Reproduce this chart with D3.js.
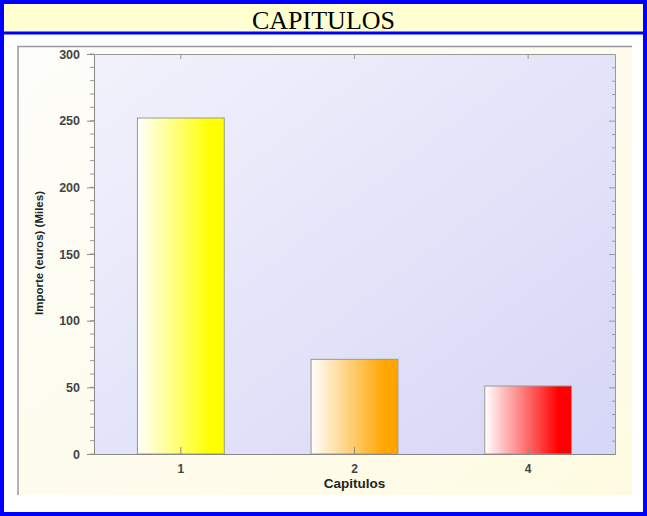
<!DOCTYPE html>
<html>
<head>
<meta charset="utf-8">
<script src="https://cdn.jsdelivr.net/npm/d3@7"></script>
<style>
  body { margin: 0; background: #fff; }
  svg { display: block; }
</style>
</head>
<body>
<script>
// data
var categories = ["1", "2", "4"];
var importes = [252, 71, 51];
var barColors = ["#ffff00", "#ffa500", "#ff0000"];
var yTicks = [0, 50, 100, 150, 200, 250, 300];

var W = 647, H = 516;
var plot = {left: 94, right: 615, top: 54, bottom: 454};

var svg = d3.select("body").append("svg")
    .attr("width", W)
    .attr("height", H);

var defs = svg.append("defs");

var bg = defs.append("linearGradient").attr("id", "plotbg")
    .attr("x1", 0).attr("y1", 0).attr("x2", 1).attr("y2", 1);
bg.append("stop").attr("offset", 0).attr("stop-color", "#f2f2fc");
bg.append("stop").attr("offset", 1).attr("stop-color", "#d6d6f7");

var cbg = defs.append("linearGradient").attr("id", "chartbg")
    .attr("x1", 0).attr("y1", 0).attr("x2", 1).attr("y2", 1);
cbg.append("stop").attr("offset", 0).attr("stop-color", "#fdfdfa");
cbg.append("stop").attr("offset", 1).attr("stop-color", "#fffbe2");

barColors.forEach(function(c, i) {
  var g = defs.append("linearGradient").attr("id", "bar" + i)
      .attr("x1", 0).attr("y1", 0).attr("x2", 1).attr("y2", 0);
  g.append("stop").attr("offset", 0).attr("stop-color", "#ffffff");
  g.append("stop").attr("offset", 0.85).attr("stop-color", c);
  g.append("stop").attr("offset", 1).attr("stop-color", c);
});

// blue frame + title band
svg.append("rect")
    .attr("x", 2).attr("y", 2).attr("width", W - 4).attr("height", H - 4)
    .attr("fill", "#fff").attr("stroke", "#0000ff").attr("stroke-width", 4);
svg.append("rect")
    .attr("x", 4).attr("y", 4).attr("width", W - 8).attr("height", 28)
    .attr("fill", "#ffffd2");
svg.append("line")
    .attr("x1", 0).attr("x2", W).attr("y1", 33).attr("y2", 33)
    .attr("stroke", "#0000ff").attr("stroke-width", 3);
svg.append("text")
    .attr("x", W / 2).attr("y", 29)
    .attr("text-anchor", "middle")
    .attr("font-family", "Liberation Serif, Times New Roman, serif")
    .attr("font-size", "26px")
    .attr("fill", "#000")
    .text("CAPITULOS");

// chart image background
svg.append("rect")
    .attr("x", 18).attr("y", 46).attr("width", 614).attr("height", 449)
    .attr("fill", "url(#chartbg)");
svg.append("path")
    .attr("d", "M18,495V46.5H632")
    .attr("fill", "none").attr("stroke", "#999").attr("stroke-width", 1.5);

var x = d3.scaleBand().domain(categories)
    .range([plot.left, plot.right]).paddingInner(0.5).paddingOuter(0.25);
var y = d3.scaleLinear().domain([0, 300]).range([plot.bottom, plot.top]);

svg.append("rect")
    .attr("x", plot.left).attr("y", plot.top)
    .attr("width", plot.right - plot.left).attr("height", plot.bottom - plot.top)
    .attr("fill", "url(#plotbg)");

// bars
svg.selectAll(".bar")
    .data(importes)
  .enter().append("rect")
    .attr("class", "bar")
    .attr("x", function(d, i) { return x(categories[i]); })
    .attr("y", function(d) { return y(d); })
    .attr("width", x.bandwidth())
    .attr("height", function(d) { return y(0) - y(d); })
    .attr("fill", function(d, i) { return "url(#bar" + i + ")"; })
    .attr("stroke", "#9a9a8a")
    .attr("stroke-width", 1);

// axes
var minor = d3.range(0, 301, 10);

var yAxis = d3.axisLeft(y).tickValues(yTicks).tickSize(7).tickSizeOuter(0).tickPadding(7);
var gy = svg.append("g")
    .attr("transform", "translate(" + plot.left + ",0)")
    .call(yAxis);
gy.selectAll(".tick line").attr("stroke", "#888");
gy.select(".domain").attr("stroke", "#888");
gy.selectAll("text")
    .attr("font-family", "Liberation Sans, Arial, sans-serif")
    .attr("font-size", "12.5px").attr("font-weight", "bold").attr("fill", "#444");
svg.append("g").selectAll("line")
    .data(minor)
  .enter().append("line")
    .attr("x1", plot.left - 4).attr("x2", plot.left)
    .attr("y1", function(d) { return y(d); }).attr("y2", function(d) { return y(d); })
    .attr("stroke", "#999");

var yRight = d3.axisLeft(y).tickValues(minor).tickSize(3).tickSizeOuter(0).tickFormat("");
var gr = svg.append("g")
    .attr("transform", "translate(" + plot.right + ",0)")
    .call(yRight);
gr.selectAll("line").attr("stroke", "#999");
gr.select(".domain").attr("stroke", "#999");
gr.selectAll(".tick line").filter(function(d) { return d % 50 === 0; }).attr("x2", -6);

var xAxis = d3.axisBottom(x).tickSize(0).tickSizeOuter(0).tickPadding(10);
var gx = svg.append("g")
    .attr("transform", "translate(0," + plot.bottom + ")")
    .call(xAxis);
gx.select(".domain").attr("stroke", "#888");
gx.selectAll("text")
    .attr("font-family", "Liberation Sans, Arial, sans-serif")
    .attr("font-size", "12px").attr("font-weight", "bold").attr("fill", "#444");
gx.selectAll(".tick").append("line")
    .attr("y1", 0).attr("y2", -7).attr("stroke", "#888");

var xTop = d3.axisTop(x).tickSize(-5).tickSizeOuter(0).tickFormat("");
var gt = svg.append("g")
    .attr("transform", "translate(0," + plot.top + ")")
    .call(xTop);
gt.selectAll("line").attr("stroke", "#999");
gt.select(".domain").attr("stroke", "#999");

// labels
svg.append("text")
    .attr("transform", "translate(43," + 253 + ") rotate(-90)")
    .attr("text-anchor", "middle")
    .attr("font-family", "Liberation Sans, Arial, sans-serif")
    .attr("font-size", "11.5px").attr("font-weight", "bold").attr("fill", "#222")
    .text("Importe (euros) (Miles)");

svg.append("text")
    .attr("x", (plot.left + plot.right) / 2).attr("y", 488)
    .attr("text-anchor", "middle")
    .attr("font-family", "Liberation Sans, Arial, sans-serif")
    .attr("font-size", "13.5px").attr("font-weight", "bold").attr("fill", "#222")
    .text("Capitulos");
</script>
</body>
</html>
